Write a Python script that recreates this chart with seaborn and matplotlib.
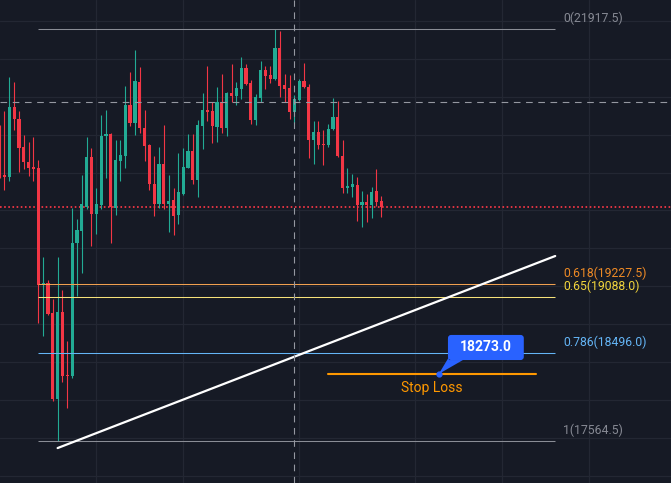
import matplotlib

matplotlib.use("Agg")

import matplotlib.pyplot as plt
from matplotlib.patches import FancyBboxPatch, Polygon
import numpy as np
import pandas as pd
import seaborn as sns

# -- data ---------------------------------------------------------------------

opens = [
    20872, 20375, 20354, 21093, 20967, 20671, 20512, 20459, 20449, 19223,
    19234, 18917, 18008, 18927, 18262, 18251, 19657, 19783, 20037, 20565,
    19963, 20058, 20787, 20808, 20026, 20523, 20576, 21115, 20924, 21358,
    20872, 20692, 20280, 20069, 20491, 20069, 20111, 19952, 20174, 20449,
    20629, 20322, 20893, 21062, 21051, 20882, 21146, 20872, 21241, 21210,
    21284, 21506, 21347, 20956, 21189, 21484, 21432, 21389, 21717, 21326,
    21294, 21041, 21167, 21368, 21305, 20745, 20829, 20702, 20692, 20861,
    20988, 20576, 20238, 20248, 20269, 20058, 20090, 20058, 20206, 20100,
]
highs = [
    20903, 21051, 21410, 21358, 21051, 20798, 20724, 20776, 20533, 19509,
    19266, 19065, 19509, 19160, 18621, 20026, 19910, 20375, 20776, 20660,
    20238, 21009, 21062, 20815, 20745, 20745, 21315, 21463, 21696, 21516,
    21062, 20702, 20576, 20671, 20903, 20375, 20238, 20607, 20660, 20808,
    20808, 20956, 21241, 21527, 21146, 21305, 21442, 21252, 21548, 21358,
    21622, 21548, 21379, 21231, 21579, 21527, 21527, 21917.5, 21896, 21442,
    21432, 21220, 21389, 21558, 21336, 20945, 20945, 20850, 20914, 21189,
    21157, 20745, 20449, 20386, 20354, 20206, 20174, 20248, 20438, 20153,
]
lows = [
    20343, 20217, 20312, 20850, 20407, 20438, 20364, 20312, 18811, 18674,
    18896, 17987, 17564.5, 18188, 17913, 18230, 19097, 19340, 20016, 19625,
    19752, 20016, 20343, 19657, 19952, 20312, 20449, 20893, 20798, 20819,
    20523, 20217, 19942, 20026, 20016, 19773, 19741, 19857, 20164, 20445,
    20280, 20143, 20650, 20945, 20713, 20724, 20819, 20787, 21146, 21115,
    21178, 21326, 20914, 20903, 21146, 21284, 21347, 21379, 21199, 21146,
    20967, 20924, 21157, 21294, 20555, 20491, 20650, 20481, 20671, 20855,
    20565, 20185, 20185, 20143, 19889, 19826, 19878, 19921, 20047, 19931,
]
closes = [
    20386, 20354, 21093, 20967, 20660, 20512, 20449, 20438, 19213, 19234,
    18906, 18008, 18927, 18251, 18251, 19657, 19794, 20069, 20565, 19963,
    20069, 20787, 20808, 20037, 20533, 20586, 21115, 20924, 21368, 20872,
    20681, 20280, 20069, 20491, 20069, 20100, 19942, 20195, 20459, 20629,
    20322, 20903, 21062, 21041, 20893, 21146, 20872, 21241, 21210, 21294,
    21506, 21336, 20956, 21199, 21484, 21421, 21389, 21717, 21315, 21284,
    21041, 21178, 21368, 21305, 20745, 20829, 20692, 20692, 20861, 20988,
    20576, 20238, 20259, 20280, 20058, 20090, 20058, 20195, 20090, 20037,
]

fib_levels = [0, 0.618, 0.65, 0.786, 1]
fib_prices = [21917.5, 19227.5, 19088.0, 18496.0, 17564.5]
fib_start, fib_end = 8, 115

trend_x = [12, 115]
trend_price = [17490, 19519]

stop_loss_price = 18273.0
stop_loss_x = [68, 111]
stop_loss_text = "Stop Loss"

cross_x = 61
cross_price = 21146

grid_x = [20, 38, 62, 86, 104, 122]
grid_prices = list(range(17200, 22001, 400))

# -- colours ------------------------------------------------------------------

BG = "#161a25"
GRID = "#232733"
UP = "#22ab94"
DOWN = "#f23645"
CROSS = "#9598a1"
FIB_COLORS = ["#8a8d96", "#f0a050", "#f6e27a", "#64b5f6", "#8a8d96"]
FIB_TEXT = ["#868993", "#ee8a25", "#f2d53c", "#64b5f6", "#868993"]
SL_ORANGE = "#ff9800"
CALLOUT = "#2962ff"

# -- scale: 1 px in data units ------------------------------------------------

PX_X = 1 / 4.831
PX_Y = 10.5655
Y_TOP = 22223.9

sns.set_theme(
    style="dark",
    rc={
        "axes.facecolor": BG,
        "figure.facecolor": BG,
        "grid.color": GRID,
        "axes.edgecolor": BG,
    },
)
plt.rcParams["font.family"] = ["Roboto", "DejaVu Sans"]

df = pd.DataFrame({"open": opens, "high": highs, "low": lows, "close": closes})
df["idx"] = np.arange(len(df))
df["up"] = df["close"] >= df["open"]
df["color"] = np.where(df["up"], UP, DOWN)

fig = plt.figure(figsize=(6.71, 4.83), dpi=100)
ax = fig.add_axes([0, 0, 1, 1])
ax.set_facecolor(BG)

# last price line
ax.axhline(df["close"].iloc[-1], color=DOWN, lw=1.3, ls=(0, (0.9, 1.4)), zorder=1)

# candles
ax.vlines(df["idx"], df["low"], df["high"], colors=df["color"], lw=0.8, zorder=2)
body_lo = np.minimum(df["open"], df["close"])
body_h = np.maximum((df["close"] - df["open"]).abs(), 9)
ax.bar(df["idx"], body_h, bottom=body_lo, width=0.66, color=df["color"],
       linewidth=0, zorder=3)

# crosshair
ax.axvline(cross_x, color=CROSS, lw=0.8, ls=(0, (6, 5)), zorder=6)
ax.axhline(cross_price, color=CROSS, lw=0.8, ls=(0, (6, 5)), zorder=6)

# fib levels
for lvl, price, lc, tc in zip(fib_levels, fib_prices, FIB_COLORS, FIB_TEXT):
    ax.hlines(price, fib_start, fib_end, colors=lc, lw=0.75, zorder=4)
    ax.annotate(f"{lvl:g}({price:.1f})", xy=(116.6, price), xytext=(0, 7.5),
                textcoords="offset points", ha="left", va="center",
                color=tc, fontsize=8.8)

# trend line
sns.lineplot(x=trend_x, y=trend_price, color="white", lw=1.6, ax=ax,
             zorder=5, legend=False)

# stop loss
sns.lineplot(x=stop_loss_x, y=[stop_loss_price] * 2, color=SL_ORANGE, lw=1.5,
             ax=ax, zorder=5, legend=False)
ax.text(89.5, stop_loss_price - 14 * PX_Y, stop_loss_text, color=SL_ORANGE,
        fontsize=10, ha="center", va="center", zorder=7)

# callout box with pointer
box_x0, box_x1 = 92.8, 108.5
box_lo, box_hi = 18420, 18685
box = FancyBboxPatch(
    (box_x0, box_lo), box_x1 - box_x0, box_hi - box_lo,
    boxstyle="round,pad=0,rounding_size=0.65",
    mutation_aspect=PX_Y / PX_X,
    fc=CALLOUT, ec="none", zorder=8,
)
ax.add_patch(box)
tail = Polygon(
    [(93.0, box_lo + 3 * PX_Y), (93.0, box_lo), (95.9, box_lo), (90.9, stop_loss_price)],
    closed=True, fc=CALLOUT, ec="none", zorder=8,
)
ax.add_patch(tail)
ax.plot([90.9], [stop_loss_price], "o", color=CALLOUT, ms=3.5, zorder=9)
ax.text((box_x0 + box_x1) / 2, (box_lo + box_hi) / 2, f"{stop_loss_price:.1f}",
        color="white", fontsize=10, fontweight="bold", ha="center",
        va="center", zorder=10)

# grid first, then the limits (set_*ticks can widen the view)
ax.set_xticks(grid_x)
ax.set_yticks(grid_prices)
ax.grid(True, color=GRID, lw=0.9)
ax.tick_params(labelbottom=False, labelleft=False, length=0)
for s in ax.spines.values():
    s.set_visible(False)
ax.set_axisbelow(True)
ax.set_xlim(0.072, 138.97)
ax.set_ylim(Y_TOP - 483 * PX_Y, Y_TOP)

fig.savefig("out.png", dpi=100, facecolor=BG)
